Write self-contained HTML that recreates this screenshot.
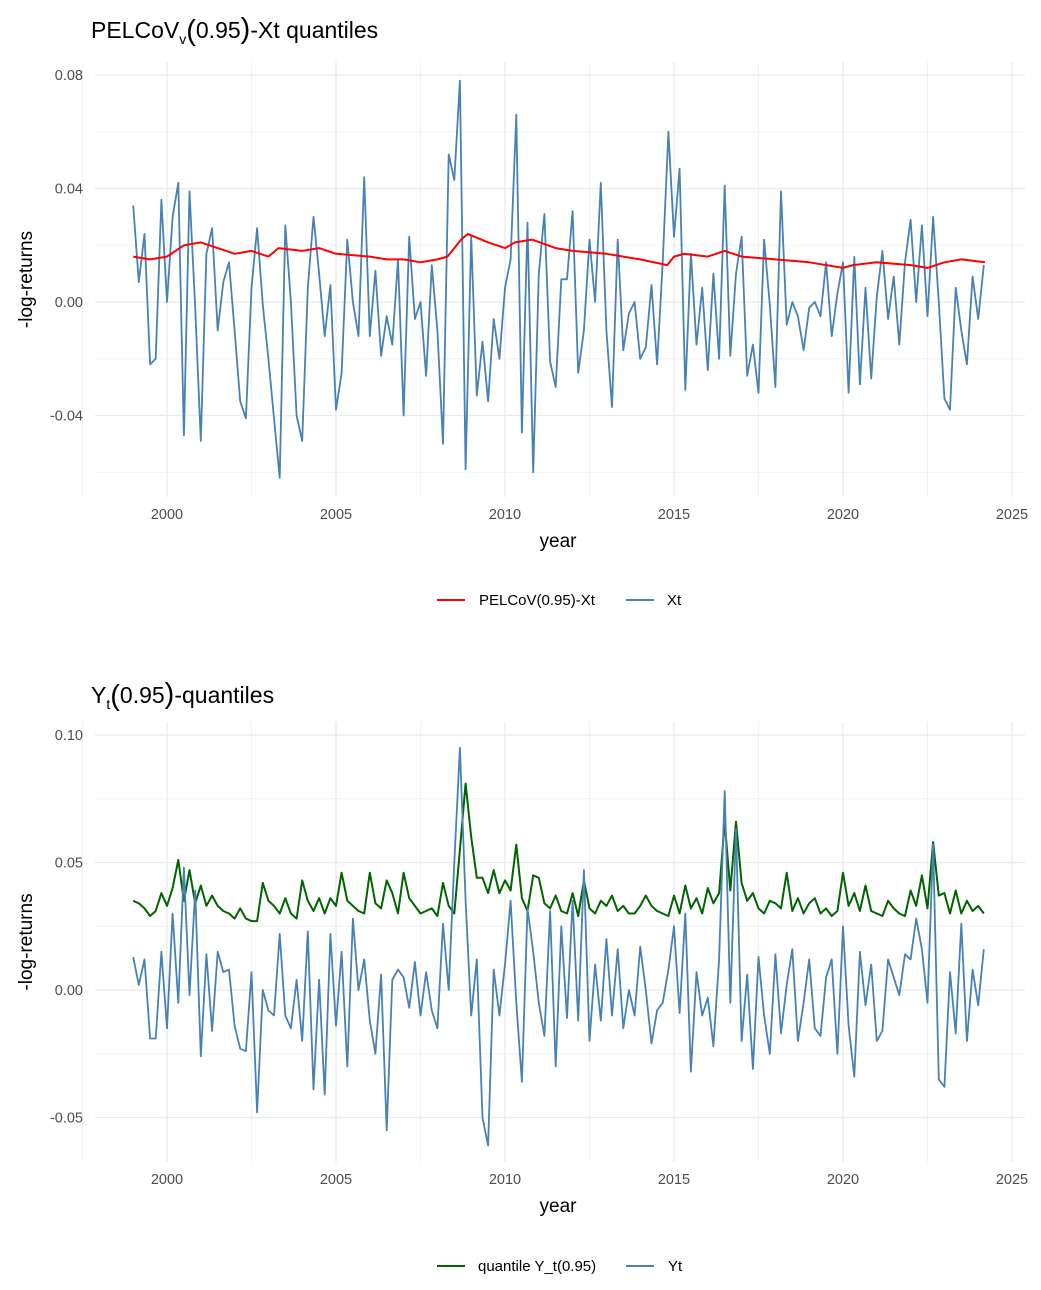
<!DOCTYPE html>
<html><head><meta charset="utf-8">
<style>
html,body{margin:0;padding:0;background:#fff;}
svg{display:block;font-family:"Liberation Sans",sans-serif;}
</style></head>
<body>
<svg id="chart" width="1041" height="1290" viewBox="0 0 1041 1290" xmlns="http://www.w3.org/2000/svg"></svg>
<script>
// ---- data (units of 0.01, bi-monthly from 1999.0) ----
const startYear = 1999;
const stepYears = 1/6;
const xtValues = [
 3.4,0.7,2.4,-2.2,-2.0,3.6,
 0.0,3.0,4.2,-4.7,3.9,-0.2,
 -4.9,1.7,2.6,-1.0,0.7,1.4,
 -1.0,-3.5,-4.1,0.5,2.6,-0.1,
 -2.0,-4.1,-6.2,2.7,0.0,-4.0,
 -4.9,0.5,3.0,1.0,-1.2,0.6,
 -3.8,-2.5,2.2,0.0,-1.2,4.4,
 -1.2,1.1,-1.9,-0.5,-1.5,1.5,
 -4.0,2.3,-0.6,0.0,-2.6,1.3,
 -1.0,-5.0,5.2,4.3,7.8,-5.9,
 2.3,-3.3,-1.4,-3.5,-0.6,-2.0,
 0.5,1.5,6.6,-4.6,2.8,-6.0,
 1.0,3.1,-2.1,-3.0,0.8,0.8,
 3.2,-2.5,-1.0,2.2,0.0,4.2,
 -1.0,-3.7,2.2,-1.7,-0.4,0.0,
 -2.0,-1.6,0.6,-2.2,1.4,6.0,
 2.3,4.7,-3.1,1.7,-1.5,0.5,
 -2.4,1.0,-2.0,4.1,-1.9,1.0,
 2.3,-2.6,-1.5,-3.2,2.2,-0.1,
 -3.0,3.9,-0.8,0.0,-0.5,-1.7,
 -0.2,0.0,-0.5,1.4,-1.2,0.3,
 1.4,-3.2,1.6,-2.9,0.5,-2.7,
 0.2,1.8,-0.6,0.9,-1.5,1.4,
 2.9,0.0,2.7,-0.5,3.0,0.0,
 -3.4,-3.8,0.5,-1.0,-2.2,0.9,
 -0.6,1.3];
const pelYears = [1999,1999.5,2000,2000.5,2001,2001.5,2002,2002.5,2003,2003.3,2004,2004.5,2005,2006,2006.5,2007,2007.5,2008,2008.3,2008.7,2008.9,2009.5,2010,2010.3,2010.8,2011.5,2012,2013,2014,2014.8,2015,2015.3,2016,2016.5,2017,2018,2019,2020,2020.3,2021,2022,2022.5,2023,2023.5,2024.2];
const pelValues = [1.6,1.5,1.6,2.0,2.1,1.9,1.7,1.8,1.6,1.9,1.8,1.9,1.7,1.6,1.5,1.5,1.4,1.5,1.6,2.2,2.4,2.1,1.9,2.1,2.2,1.9,1.8,1.7,1.5,1.3,1.6,1.7,1.6,1.8,1.6,1.5,1.4,1.2,1.3,1.4,1.3,1.2,1.4,1.5,1.4];
const ytValues = [
 1.3,0.2,1.2,-1.9,-1.9,1.5,
 -1.5,3.0,-0.5,4.8,-0.2,3.9,
 -2.6,1.4,-1.6,1.5,0.7,0.8,
 -1.4,-2.3,-2.4,0.7,-4.8,0.0,
 -0.8,-1.0,2.2,-1.0,-1.5,0.4,
 -2.0,2.3,-3.9,0.4,-4.1,2.2,
 -1.4,1.5,-3.0,2.8,0.0,1.2,
 -1.2,-2.5,0.6,-5.5,0.4,0.8,
 0.5,-0.7,1.1,-1.0,0.7,-0.8,
 -1.5,2.6,0.0,5.0,9.5,3.5,
 -1.0,1.2,-5.0,-6.1,0.8,-1.0,
 1.0,3.5,-0.5,-3.6,3.2,1.5,
 -0.5,-1.8,3.1,-3.0,2.5,-1.1,
 3.5,-1.2,4.7,-2.0,1.0,-1.2,
 2.0,-1.0,1.6,-1.5,0.0,-1.0,
 1.7,0.0,-2.1,-0.8,-0.5,0.8,
 2.5,-0.9,3.0,-3.2,0.7,-1.0,
 -0.3,-2.2,1.2,7.8,-0.5,6.3,
 -2.0,0.6,-3.1,1.3,-1.0,-2.5,
 1.4,-1.7,0.2,1.6,-2.0,-0.5,
 1.2,-1.5,-1.8,0.5,1.2,-2.5,
 2.5,-1.4,-3.4,1.5,-0.6,1.0,
 -2.0,-1.6,1.2,0.5,-0.2,1.4,
 1.2,2.8,1.6,-0.5,5.7,-3.5,
 -3.8,0.7,-1.7,2.6,-2.0,0.8,
 -0.6,1.6];
const qValues = [
 3.5,3.4,3.2,2.9,3.1,3.8,
 3.3,4.0,5.1,3.5,4.7,3.4,
 4.1,3.3,3.7,3.3,3.1,3.0,
 2.8,3.2,2.8,2.7,2.7,4.2,
 3.5,3.3,3.0,3.6,3.0,2.8,
 4.3,3.5,3.1,3.6,3.0,3.6,
 3.3,4.6,3.5,3.3,3.1,3.0,
 4.6,3.4,3.2,4.3,3.8,3.0,
 4.6,3.6,3.3,3.0,3.1,3.2,
 2.9,4.2,3.3,3.0,5.5,8.1,
 6.0,4.4,4.4,3.8,4.7,3.8,
 4.3,3.9,5.7,3.6,3.1,4.5,
 4.4,3.4,3.2,3.7,3.1,3.0,
 3.8,2.9,4.3,3.2,3.0,3.5,
 3.3,3.7,3.1,3.3,3.0,3.0,
 3.3,3.7,3.3,3.1,3.0,2.9,
 3.7,3.0,4.1,3.2,3.6,3.0,
 4.0,3.4,3.8,6.6,3.9,6.6,
 4.2,3.5,3.8,3.2,3.0,3.5,
 3.4,3.2,4.6,3.1,3.6,3.0,
 3.4,3.6,3.0,3.2,2.9,3.1,
 4.6,3.3,3.8,3.1,4.1,3.1,
 3.0,2.9,3.5,3.2,3.0,2.9,
 3.9,3.3,4.5,3.2,5.8,3.7,
 3.8,3.0,3.9,3.0,3.5,3.1,
 3.3,3.0];
const xTickLabels = ["2000","2005","2010","2015","2020","2025"];
const topYTicks = ["0.08","0.04","0.00","-0.04"];
const botYTicks = ["0.10","0.05","0.00","-0.05"];

const NS = "http://www.w3.org/2000/svg";
const svg = document.getElementById("chart");
function mk(tag, attrs, parent){
  const e = document.createElementNS(NS, tag);
  for (const k in attrs) e.setAttribute(k, attrs[k]);
  (parent||svg).appendChild(e);
  return e;
}
const xScale = y => 167 + (y - 2000) * 33.8;
const left = 95, right = 1025;

function drawPanel(cfg){
  const g = mk("g", {});
  
  
  const yS = v => cfg.y0 - v * cfg.ppu;
  for (let yr = 1997.5; yr <= 2025.4; yr += 5) {
    const l = mk("line",{x1:xScale(yr),x2:xScale(yr),y1:cfg.top,y2:cfg.bottom,stroke:"#f2f2f2","stroke-width":1},g);
    
    
  }
  cfg.minorY.forEach(v=>{
    const l = mk("line",{x1:left,x2:right,y1:yS(v),y2:yS(v),stroke:"#f2f2f2","stroke-width":1},g);
    
    
  });
  xTickLabels.forEach(t=>{
    const x = xScale(+t);
    const l = mk("line",{x1:x,x2:x,y1:cfg.top,y2:cfg.bottom,stroke:"#ebebeb","stroke-width":1.3},g);
    
    
    const tx = mk("text",{x:x,y:cfg.bottom+22,"text-anchor":"middle","font-size":14.5,fill:"#4d4d4d"},g);
    tx.textContent = t;
    
    
  });
  cfg.yTicks.forEach(t=>{
    const y = yS(+t);
    const l = mk("line",{x1:left,x2:right,y1:y,y2:y,stroke:"#ebebeb","stroke-width":1.3},g);
    
    
    const tx = mk("text",{x:83,y:y+5,"text-anchor":"end","font-size":14.5,fill:"#4d4d4d"},g);
    tx.textContent = t;
    
    
  });
  cfg.series.forEach(s=>{
    const pts = s.vals.map((v,i)=>{
      const yr = s.xs ? s.xs[i] : startYear + i*stepYears;
      return xScale(yr).toFixed(1)+","+yS(v/100).toFixed(1);
    }).join(" ");
    const p = mk("polyline",{points:pts,fill:"none",stroke:s.color,"stroke-width":s.w,"stroke-linejoin":"round"},g);
    
    
  });
  const xt = mk("text",{x:558,y:cfg.bottom+50,"text-anchor":"middle","font-size":19,fill:"#000"},g);
  xt.textContent = "year";
  
  
  const cy = (cfg.top+cfg.bottom)/2;
  const yt = mk("text",{x:32,y:cy,"text-anchor":"middle","font-size":19,fill:"#000",transform:`rotate(-90 32 ${cy})`},g);
  yt.textContent = "-log-returns";
  
  
  const ly = cfg.legendY;
  cfg.legend.forEach(le=>{
    const l = mk("line",{x1:le.x,x2:le.x+28,y1:ly,y2:ly,stroke:le.color,"stroke-width":2},g);
    
    
    const t = mk("text",{x:le.tx,y:ly+5,"font-size":15,fill:"#000"},g);
    t.textContent = le.label;
    
    
  });
}

drawPanel({name:"top-panel",top:62,bottom:497,y0:302,ppu:2837.5,
  yTicks:topYTicks,minorY:[0.06,0.02,-0.02,-0.06],legendY:600,
  series:[{name:"xt-line",vals:xtValues,color:"#4682b4",w:1.8},
          {name:"pelcov-line",vals:pelValues,xs:pelYears,color:"#ff0000",w:2}],
  legend:[{x:437,tx:479,color:"#ff0000",label:"PELCoV(0.95)-Xt"},{x:626,tx:667,color:"#4682b4",label:"Xt"}]});
drawPanel({name:"bottom-panel",top:722,bottom:1162,y0:990,ppu:2550,
  yTicks:botYTicks,minorY:[0.075,0.025,-0.025],legendY:1266,
  series:[{name:"quantile-line",vals:qValues,color:"#006400",w:2},
          {name:"yt-line",vals:ytValues,color:"#4682b4",w:1.8}],
  legend:[{x:437,tx:478,color:"#006400",label:"quantile Y_t(0.95)"},{x:626,tx:668,color:"#4682b4",label:"Yt"}]});
</script>
<svg style="position:absolute;left:0;top:0" width="1041" height="720">
  <text x="91" y="38" font-family="Liberation Sans, sans-serif" font-size="23" fill="#000">PELCoV<tspan font-size="14" dy="6">v</tspan><tspan font-size="29" dy="-4">(</tspan><tspan dy="-2">0.95</tspan><tspan font-size="29" dy="0">)</tspan><tspan>-Xt quantiles</tspan></text>
  <text x="91" y="703" font-family="Liberation Sans, sans-serif" font-size="23" fill="#000">Y<tspan font-size="14" dy="6">t</tspan><tspan font-size="29" dy="-4">(</tspan><tspan dy="-2">0.95</tspan><tspan font-size="29">)</tspan><tspan>-quantiles</tspan></text>
</svg>
</body></html>
